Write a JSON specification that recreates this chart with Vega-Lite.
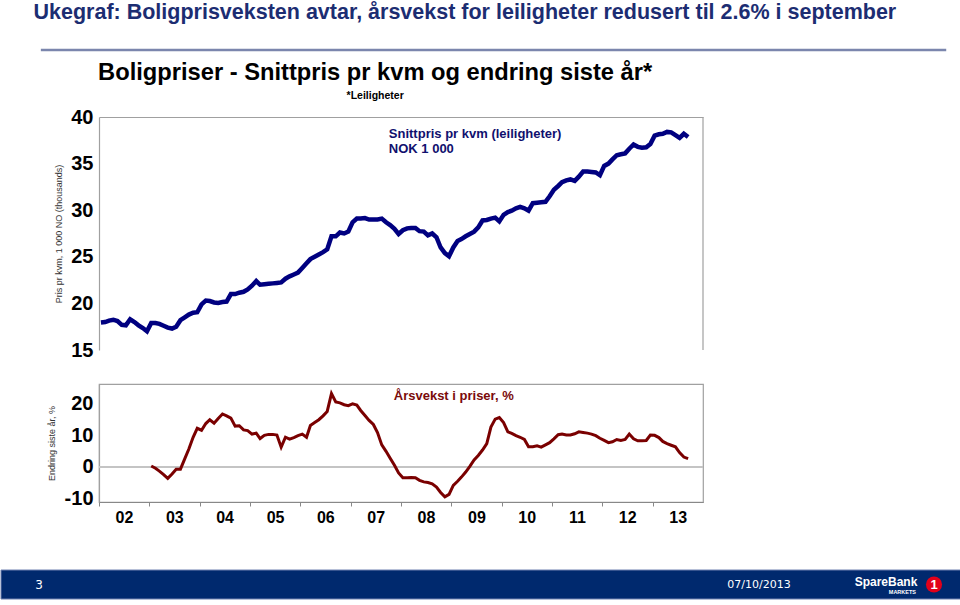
{
  "$schema": "https://vega.github.io/schema/vega-lite/v6.json",
  "padding": {"left": 0, "right": 0, "top": 2, "bottom": 5},
  "background": "white",
  "spacing": 23,
  "title": {
    "text": "Ukegraf: Boligprisveksten avtar, årsvekst for leiligheter redusert til 2.6% i september",
    "anchor": "start", "frame": "bounds", "dx": 33, "offset": 25,
    "font": "Liberation Sans", "fontSize": 21.5, "fontWeight": "bold", "color": "#1c2d72"
  },
  "config": {
    "view": {"stroke": null},
    "font": "Liberation Sans",
    "axis": {"labelFont": "Liberation Sans", "titleFont": "Liberation Sans", "grid": false}
  },
  "datasets": {
    "bolig": [
      {"date": "2002-01-15", "pris": 17.95, "vekst": null},
      {"date": "2002-02-15", "pris": 18.0, "vekst": null},
      {"date": "2002-03-15", "pris": 18.15, "vekst": null},
      {"date": "2002-04-15", "pris": 18.25, "vekst": null},
      {"date": "2002-05-15", "pris": 18.1, "vekst": null},
      {"date": "2002-06-15", "pris": 17.7, "vekst": null},
      {"date": "2002-07-15", "pris": 17.65, "vekst": null},
      {"date": "2002-08-15", "pris": 18.3, "vekst": null},
      {"date": "2002-09-15", "pris": 18.0, "vekst": null},
      {"date": "2002-10-15", "pris": 17.65, "vekst": null},
      {"date": "2002-11-15", "pris": 17.35, "vekst": null},
      {"date": "2002-12-15", "pris": 17.0, "vekst": null},
      {"date": "2003-01-15", "pris": 17.9, "vekst": 0.3},
      {"date": "2003-02-15", "pris": 17.9, "vekst": -0.4},
      {"date": "2003-03-15", "pris": 17.8, "vekst": -1.3},
      {"date": "2003-04-15", "pris": 17.6, "vekst": -2.4},
      {"date": "2003-05-15", "pris": 17.4, "vekst": -3.6},
      {"date": "2003-06-15", "pris": 17.3, "vekst": -2.2},
      {"date": "2003-07-15", "pris": 17.5, "vekst": -0.7},
      {"date": "2003-08-15", "pris": 18.2, "vekst": -0.7},
      {"date": "2003-09-15", "pris": 18.5, "vekst": 2.5},
      {"date": "2003-10-15", "pris": 18.8, "vekst": 5.6},
      {"date": "2003-11-15", "pris": 19.0, "vekst": 9.3},
      {"date": "2003-12-15", "pris": 19.05, "vekst": 12.1},
      {"date": "2004-01-15", "pris": 19.9, "vekst": 11.5},
      {"date": "2004-02-15", "pris": 20.3, "vekst": 13.6},
      {"date": "2004-03-15", "pris": 20.25, "vekst": 14.8},
      {"date": "2004-04-15", "pris": 20.1, "vekst": 13.7},
      {"date": "2004-05-15", "pris": 20.05, "vekst": 15.2},
      {"date": "2004-06-15", "pris": 20.15, "vekst": 16.6},
      {"date": "2004-07-15", "pris": 20.2, "vekst": 16.0},
      {"date": "2004-08-15", "pris": 21.0, "vekst": 15.3},
      {"date": "2004-09-15", "pris": 21.0, "vekst": 12.8},
      {"date": "2004-10-15", "pris": 21.15, "vekst": 12.9},
      {"date": "2004-11-15", "pris": 21.25, "vekst": 11.6},
      {"date": "2004-12-15", "pris": 21.5, "vekst": 11.4},
      {"date": "2005-01-15", "pris": 21.9, "vekst": 10.3},
      {"date": "2005-02-15", "pris": 22.4, "vekst": 10.6},
      {"date": "2005-03-15", "pris": 22.0, "vekst": 8.9},
      {"date": "2005-04-15", "pris": 22.05, "vekst": 9.9},
      {"date": "2005-05-15", "pris": 22.1, "vekst": 10.2},
      {"date": "2005-06-15", "pris": 22.15, "vekst": 10.2},
      {"date": "2005-07-15", "pris": 22.2, "vekst": 10.0},
      {"date": "2005-08-15", "pris": 22.25, "vekst": 6.2},
      {"date": "2005-09-15", "pris": 22.65, "vekst": 9.3},
      {"date": "2005-10-15", "pris": 22.9, "vekst": 8.7},
      {"date": "2005-11-15", "pris": 23.1, "vekst": 9.2},
      {"date": "2005-12-15", "pris": 23.3, "vekst": 9.8},
      {"date": "2006-01-15", "pris": 23.8, "vekst": 10.3},
      {"date": "2006-02-15", "pris": 24.3, "vekst": 9.3},
      {"date": "2006-03-15", "pris": 24.75, "vekst": 13.0},
      {"date": "2006-04-15", "pris": 25.0, "vekst": 13.9},
      {"date": "2006-05-15", "pris": 25.25, "vekst": 14.8},
      {"date": "2006-06-15", "pris": 25.5, "vekst": 16.0},
      {"date": "2006-07-15", "pris": 25.8, "vekst": 17.4},
      {"date": "2006-08-15", "pris": 27.2, "vekst": 23.0},
      {"date": "2006-09-15", "pris": 27.2, "vekst": 20.4},
      {"date": "2006-10-15", "pris": 27.6, "vekst": 20.1},
      {"date": "2006-11-15", "pris": 27.5, "vekst": 19.5},
      {"date": "2006-12-15", "pris": 27.7, "vekst": 19.2},
      {"date": "2007-01-15", "pris": 28.7, "vekst": 19.8},
      {"date": "2007-02-15", "pris": 29.1, "vekst": 19.4},
      {"date": "2007-03-15", "pris": 29.1, "vekst": 17.7},
      {"date": "2007-04-15", "pris": 29.15, "vekst": 16.1},
      {"date": "2007-05-15", "pris": 29.0, "vekst": 14.6},
      {"date": "2007-06-15", "pris": 29.0, "vekst": 13.3},
      {"date": "2007-07-15", "pris": 29.0, "vekst": 10.8},
      {"date": "2007-08-15", "pris": 29.1, "vekst": 6.9},
      {"date": "2007-09-15", "pris": 28.7, "vekst": 4.9},
      {"date": "2007-10-15", "pris": 28.4, "vekst": 2.7},
      {"date": "2007-11-15", "pris": 28.0, "vekst": 0.5},
      {"date": "2007-12-15", "pris": 27.45, "vekst": -1.9},
      {"date": "2008-01-15", "pris": 27.85, "vekst": -3.4},
      {"date": "2008-02-15", "pris": 28.05, "vekst": -3.4},
      {"date": "2008-03-15", "pris": 28.1, "vekst": -3.3},
      {"date": "2008-04-15", "pris": 28.1, "vekst": -3.4},
      {"date": "2008-05-15", "pris": 27.75, "vekst": -4.2},
      {"date": "2008-06-15", "pris": 27.7, "vekst": -4.7},
      {"date": "2008-07-15", "pris": 27.3, "vekst": -4.9},
      {"date": "2008-08-15", "pris": 27.5, "vekst": -5.3},
      {"date": "2008-09-15", "pris": 27.1, "vekst": -6.3},
      {"date": "2008-10-15", "pris": 26.0, "vekst": -8.0},
      {"date": "2008-11-15", "pris": 25.4, "vekst": -9.4},
      {"date": "2008-12-15", "pris": 25.05, "vekst": -8.6},
      {"date": "2009-01-15", "pris": 26.0, "vekst": -5.8},
      {"date": "2009-02-15", "pris": 26.7, "vekst": -4.5},
      {"date": "2009-03-15", "pris": 26.9, "vekst": -3.2},
      {"date": "2009-04-15", "pris": 27.2, "vekst": -1.6},
      {"date": "2009-05-15", "pris": 27.45, "vekst": 0.2},
      {"date": "2009-06-15", "pris": 27.7, "vekst": 2.2},
      {"date": "2009-07-15", "pris": 28.15, "vekst": 3.6},
      {"date": "2009-08-15", "pris": 28.9, "vekst": 5.3},
      {"date": "2009-09-15", "pris": 28.95, "vekst": 7.3},
      {"date": "2009-10-15", "pris": 29.1, "vekst": 12.5},
      {"date": "2009-11-15", "pris": 29.2, "vekst": 15.0},
      {"date": "2009-12-15", "pris": 28.8, "vekst": 15.5},
      {"date": "2010-01-15", "pris": 29.5, "vekst": 13.9},
      {"date": "2010-02-15", "pris": 29.8, "vekst": 11.0},
      {"date": "2010-03-15", "pris": 29.95, "vekst": 10.5},
      {"date": "2010-04-15", "pris": 30.2, "vekst": 9.8},
      {"date": "2010-05-15", "pris": 30.35, "vekst": 9.3},
      {"date": "2010-06-15", "pris": 30.2, "vekst": 8.6},
      {"date": "2010-07-15", "pris": 29.95, "vekst": 6.3},
      {"date": "2010-08-15", "pris": 30.75, "vekst": 6.3},
      {"date": "2010-09-15", "pris": 30.8, "vekst": 6.6},
      {"date": "2010-10-15", "pris": 30.85, "vekst": 6.2},
      {"date": "2010-11-15", "pris": 30.9, "vekst": 6.9},
      {"date": "2010-12-15", "pris": 31.5, "vekst": 7.6},
      {"date": "2011-01-15", "pris": 32.2, "vekst": 8.8},
      {"date": "2011-02-15", "pris": 32.6, "vekst": 10.1},
      {"date": "2011-03-15", "pris": 33.0, "vekst": 10.3},
      {"date": "2011-04-15", "pris": 33.2, "vekst": 10.0},
      {"date": "2011-05-15", "pris": 33.3, "vekst": 10.0},
      {"date": "2011-06-15", "pris": 33.15, "vekst": 10.4},
      {"date": "2011-07-15", "pris": 33.6, "vekst": 11.0},
      {"date": "2011-08-15", "pris": 34.15, "vekst": 10.8},
      {"date": "2011-09-15", "pris": 34.15, "vekst": 10.6},
      {"date": "2011-10-15", "pris": 34.1, "vekst": 10.3},
      {"date": "2011-11-15", "pris": 34.05, "vekst": 9.8},
      {"date": "2011-12-15", "pris": 33.75, "vekst": 9.0},
      {"date": "2012-01-15", "pris": 34.75, "vekst": 8.3},
      {"date": "2012-02-15", "pris": 35.0, "vekst": 7.6},
      {"date": "2012-03-15", "pris": 35.45, "vekst": 7.9},
      {"date": "2012-04-15", "pris": 35.9, "vekst": 8.6},
      {"date": "2012-05-15", "pris": 36.0, "vekst": 8.3},
      {"date": "2012-06-15", "pris": 36.1, "vekst": 8.6},
      {"date": "2012-07-15", "pris": 36.6, "vekst": 10.3},
      {"date": "2012-08-15", "pris": 37.05, "vekst": 8.8},
      {"date": "2012-09-15", "pris": 36.8, "vekst": 8.2},
      {"date": "2012-10-15", "pris": 36.7, "vekst": 8.2},
      {"date": "2012-11-15", "pris": 36.75, "vekst": 8.3},
      {"date": "2012-12-15", "pris": 37.1, "vekst": 10.0},
      {"date": "2013-01-15", "pris": 38.0, "vekst": 9.9},
      {"date": "2013-02-15", "pris": 38.15, "vekst": 9.2},
      {"date": "2013-03-15", "pris": 38.2, "vekst": 8.0},
      {"date": "2013-04-15", "pris": 38.4, "vekst": 7.3},
      {"date": "2013-05-15", "pris": 38.35, "vekst": 6.8},
      {"date": "2013-06-15", "pris": 38.05, "vekst": 6.3},
      {"date": "2013-07-15", "pris": 37.75, "vekst": 4.5},
      {"date": "2013-08-15", "pris": 38.2, "vekst": 3.1},
      {"date": "2013-09-15", "pris": 37.85, "vekst": 2.6}
    ]
  },
  "vconcat": [
    {
      "width": 604,
      "height": 233,
      "layer": [
        {
          "data": {"name": "bolig"},
          "mark": {"type": "line", "color": "#000080", "strokeWidth": 4.5},
          "encoding": {
            "x": {"field": "date", "type": "temporal",
              "scale": {"domain": [{"year": 2002, "month": 1, "date": 1}, {"year": 2014, "month": 1, "date": 1}]},
              "axis": {"orient": "top", "labels": false, "ticks": false, "title": null, "domainColor": "#a0a0a0", "domainWidth": 1.2}},
            "y": {"field": "pris", "type": "quantitative",
              "scale": {"domain": [15, 40], "zero": false, "nice": false},
              "axis": {"values": [15, 20, 25, 30, 35, 40], "tickCount": 20, "ticks": false, "labelOverlap": false, "labelFontSize": 20, "labelFontWeight": "bold", "labelColor": "#000", "labelPadding": 6,
                "domainColor": "#a0a0a0", "domainWidth": 1.2,
                "title": "Pris pr kvm, 1 000 NO (thousands)", "titleFontSize": 9, "titleFontWeight": "normal", "titleColor": "#333", "titlePadding": 7}}
          }
        },
        {
          "data": {"values": [{}]},
          "mark": {"type": "rule", "color": "#a0a0a0", "strokeWidth": 1.2},
          "encoding": {
            "x": {"datum": {"year": 2014, "month": 1, "date": 1}, "type": "temporal"},
            "y": {"datum": 15},
            "y2": {"datum": 40}
          }
        },
        {
          "data": {"values": [{}]},
          "mark": {"type": "rule", "color": "#7b86ad", "strokeWidth": 2.5, "clip": false},
          "encoding": {
            "x": {"datum": {"year": 2000, "month": 11, "date": 5}, "type": "temporal"},
            "x2": {"datum": {"year": 2018, "month": 11, "date": 1}},
            "y": {"datum": 47.19}
          }
        },
        {
          "data": {"values": [{}]},
          "mark": {"type": "text", "align": "center", "baseline": "alphabetic", "fontSize": 23.7, "fontWeight": "bold", "color": "#000", "clip": false},
          "encoding": {
            "x": {"datum": {"year": 2007, "month": 6, "date": 28}, "type": "temporal"},
            "y": {"datum": 43.97},
            "text": {"value": "Boligpriser - Snittpris pr kvm og endring siste år*"}
          }
        },
        {
          "data": {"values": [{}]},
          "mark": {"type": "text", "align": "center", "baseline": "alphabetic", "fontSize": 10.5, "fontWeight": "bold", "color": "#000", "clip": false},
          "encoding": {
            "x": {"datum": {"year": 2007, "month": 6, "date": 28}, "type": "temporal"},
            "y": {"datum": 41.93},
            "text": {"value": "*Leiligheter"}
          }
        },
        {
          "data": {"values": [{}]},
          "mark": {"type": "text", "align": "left", "baseline": "alphabetic", "fontSize": 13, "fontWeight": "bold", "color": "#10106e", "lineHeight": 15},
          "encoding": {
            "x": {"datum": {"year": 2007, "month": 10, "date": 5}, "type": "temporal"},
            "y": {"datum": 37.75},
            "text": {"value": ["Snittpris pr kvm (leiligheter)", "NOK 1 000"]}
          }
        }
      ]
    },
    {
      "width": 604,
      "height": 118,
      "view": {"stroke": "#a0a0a0", "strokeWidth": 1.2},
      "resolve": {"axis": {"x": "independent", "y": "independent"}},
      "layer": [
        {
          "data": {"values": [{}]},
          "mark": {"type": "rule", "color": "#c4c4c4", "strokeWidth": 2},
          "encoding": {
            "y": {"datum": 0, "type": "quantitative", "scale": {"domain": [-11, 26], "zero": false, "nice": false}, "axis": null}
          }
        },
        {
          "data": {"name": "bolig"},
          "mark": {"type": "line", "color": "#7a0000", "strokeWidth": 3},
          "encoding": {
            "x": {"field": "date", "type": "temporal",
              "scale": {"domain": [{"year": 2002, "month": 1, "date": 1}, {"year": 2014, "month": 1, "date": 1}]},
              "axis": {"values": [{"year": 2002, "month": 1, "date": 1}, {"year": 2003, "month": 1, "date": 1}, {"year": 2004, "month": 1, "date": 1}, {"year": 2005, "month": 1, "date": 1}, {"year": 2006, "month": 1, "date": 1}, {"year": 2007, "month": 1, "date": 1}, {"year": 2008, "month": 1, "date": 1}, {"year": 2009, "month": 1, "date": 1}, {"year": 2010, "month": 1, "date": 1}, {"year": 2011, "month": 1, "date": 1}, {"year": 2012, "month": 1, "date": 1}, {"year": 2013, "month": 1, "date": 1}],
                "orient": "bottom", "tickCount": 30, "format": "%y", "labelOffset": 25, "labelBound": false, "labelOverlap": false, "labelFlush": false,
                "tickSize": 4, "tickColor": "#888", "domainColor": "#888", "domainWidth": 1.2,
                "labelFontSize": 16, "labelFontWeight": "bold", "labelColor": "#000", "labelPadding": 3, "title": null}},
            "y": {"field": "vekst", "type": "quantitative",
              "scale": {"domain": [-11, 26], "zero": false, "nice": false},
              "axis": {"orient": "left", "values": [-10, 0, 10, 20], "tickCount": 20, "labelExpr": "datum.value + ''", "ticks": false, "labelOverlap": false, "labelFontSize": 20, "labelFontWeight": "bold", "labelColor": "#000", "labelPadding": 6,
                "domainColor": "#a0a0a0", "domainWidth": 1.2,
                "title": "Endring siste år, %", "titleFontSize": 9, "titleFontWeight": "normal", "titleColor": "#333", "titlePadding": 8}}
          }
        },
        {
          "data": {"values": [{}]},
          "mark": {"type": "text", "align": "left", "baseline": "alphabetic", "fontSize": 13, "fontWeight": "bold", "color": "#7a0a0a"},
          "encoding": {
            "x": {"datum": {"year": 2007, "month": 11, "date": 10}, "type": "temporal", "axis": null},
            "y": {"datum": 21.0, "axis": null},
            "text": {"value": "Årsvekst i priser, %"}
          }
        }
      ]
    },
    {
      "width": 604,
      "height": 50,
      "data": {"values": [{}]},
      "layer": [
        {
          "mark": {"type": "rect", "color": "#00296e", "stroke": "#6f80b0", "strokeWidth": 1, "clip": false},
          "encoding": {
            "x": {"datum": -98, "type": "quantitative", "scale": {"domain": [0, 604], "zero": false, "nice": false}, "axis": null},
            "x2": {"datum": 862},
            "y": {"datum": 0, "type": "quantitative", "scale": {"domain": [0, 50], "zero": false, "nice": false}, "axis": null},
            "y2": {"datum": 29}
          }
        },
        {
          "mark": {"type": "text", "color": "white", "fontSize": 12, "font": "DejaVu Sans", "align": "center", "baseline": "middle", "clip": false},
          "encoding": {"x": {"datum": -60, "axis": null}, "y": {"datum": 14.5, "axis": null}, "text": {"value": "3"}}
        },
        {
          "mark": {"type": "text", "color": "white", "fontSize": 11, "font": "DejaVu Sans", "align": "center", "baseline": "middle"},
          "encoding": {"x": {"datum": 660, "axis": null}, "y": {"datum": 14.5, "axis": null}, "text": {"value": "07/10/2013"}}
        },
        {
          "mark": {"type": "text", "color": "white", "fontSize": 12, "font": "Liberation Sans", "fontWeight": "bold", "align": "center", "baseline": "alphabetic", "clip": false},
          "encoding": {"x": {"datum": 787, "axis": null}, "y": {"datum": 13, "axis": null}, "text": {"value": "SpareBank"}}
        },
        {
          "mark": {"type": "text", "color": "white", "fontSize": 5.5, "fontWeight": "bold", "align": "right", "baseline": "alphabetic", "clip": false},
          "encoding": {"x": {"datum": 817, "axis": null}, "y": {"datum": 5, "axis": null}, "text": {"value": "MARKETS"}}
        },
        {
          "mark": {"type": "point", "shape": "circle", "filled": true, "color": "#e2001a", "size": 260, "opacity": 1, "clip": false},
          "encoding": {"x": {"datum": 835, "axis": null}, "y": {"datum": 14.5, "axis": null}}
        },
        {
          "mark": {"type": "text", "color": "white", "fontSize": 13, "fontWeight": "bold", "align": "center", "baseline": "middle", "clip": false},
          "encoding": {"x": {"datum": 835, "axis": null}, "y": {"datum": 14.5, "axis": null}, "text": {"value": "1"}}
        }
      ]
    }
  ]
}
